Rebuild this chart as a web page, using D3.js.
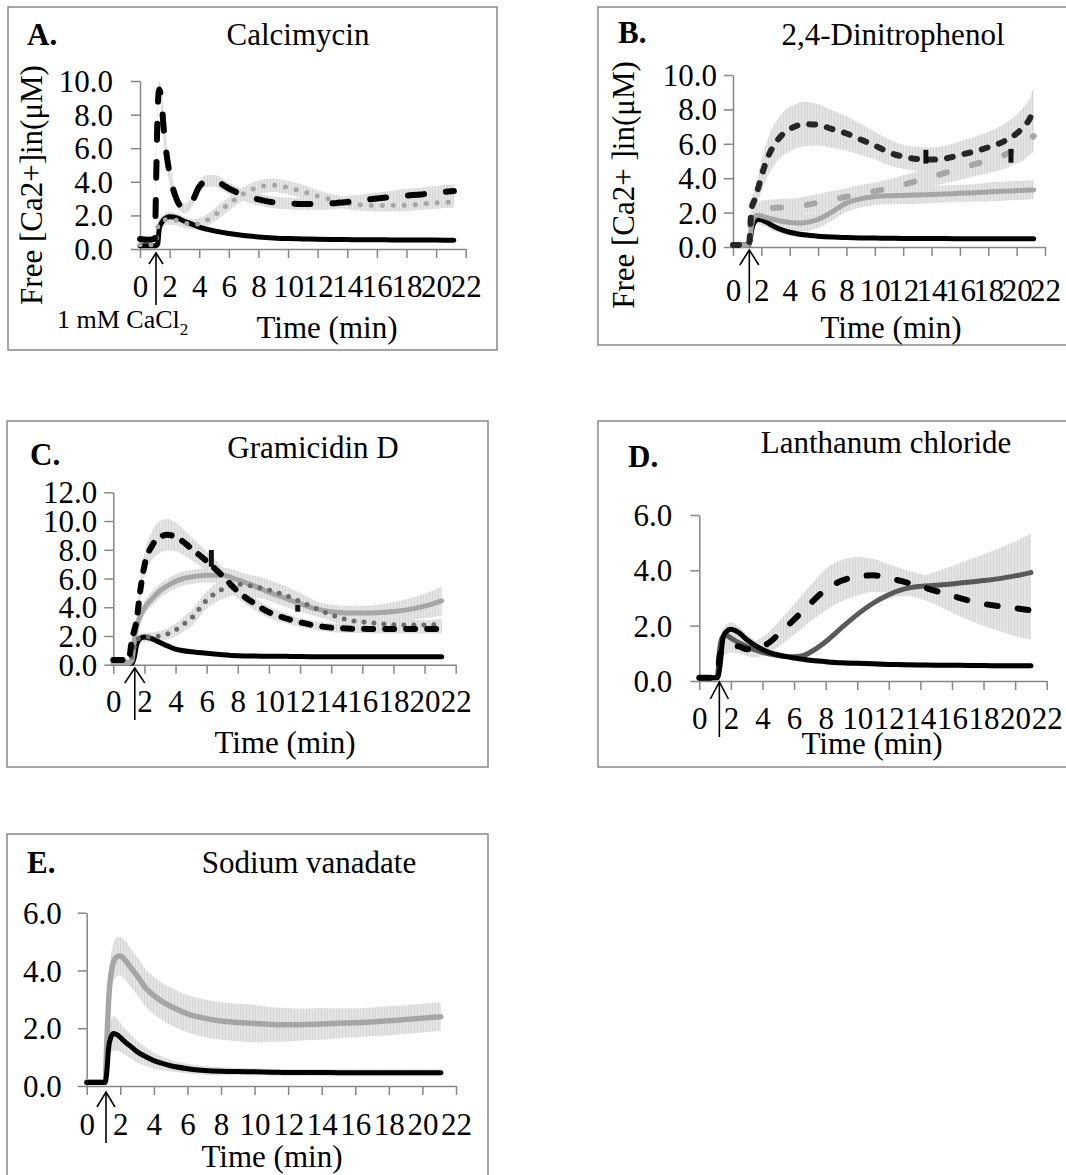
<!DOCTYPE html>
<html>
<head>
<meta charset="utf-8">
<script src="https://cdn.jsdelivr.net/npm/d3@7"></script>
<style>
  body { margin: 0; background: #fff; }
  svg { display: block; font-family: "Liberation Serif", "Times New Roman", serif; }
</style>
</head>
<body>
<svg id="chart" width="1066" height="1175"></svg>
<script>
// ---- data (time in min, free [Ca2+]in in µM, error = SD half-width) ----
const xTicks = d3.range(0, 23, 2);

// A. Calcimycin
const tA = [0, 0.5, 1.0, 1.1, 1.2, 1.3, 1.45, 1.6, 1.8, 2.0, 2.5, 3, 3.5, 4, 4.5, 5, 6, 7, 8, 9, 10, 11, 12, 13, 14, 15, 16, 17, 18, 19, 20, 21.2];
const aControl = [0.2, 0.2, 0.2, 0.2, 0.3, 1.2, 1.55, 1.75, 1.88, 1.92, 1.85, 1.65, 1.48, 1.3, 1.18, 1.08, 0.92, 0.8, 0.72, 0.66, 0.62, 0.6, 0.58, 0.57, 0.56, 0.55, 0.55, 0.54, 0.54, 0.53, 0.53, 0.52];
const aControlErr = [0.05, 0.05, 0.05, 0.05, 0.1, 0.2, 0.25, 0.3, 0.3, 0.3, 0.28, 0.25, 0.22, 0.2, 0.18, 0.16, 0.14, 0.12, 0.1, 0.1, 0.1, 0.1, 0.1, 0.1, 0.1, 0.1, 0.1, 0.1, 0.1, 0.1, 0.1, 0.1];
const aDrug = [0.6, 0.55, 0.6, 4.5, 8.5, 9.5, 8.8, 7.2, 5.6, 4.5, 2.9, 2.4, 2.8, 3.7, 4.05, 4.05, 3.6, 3.2, 2.95, 2.78, 2.72, 2.68, 2.68, 2.72, 2.8, 2.9, 3.0, 3.1, 3.18, 3.25, 3.35, 3.45];
const aDrugErr = [0.1, 0.1, 0.1, 0.4, 0.6, 0.5, 0.8, 0.8, 0.7, 0.6, 0.4, 0.3, 0.3, 0.35, 0.35, 0.35, 0.35, 0.35, 0.35, 0.35, 0.35, 0.35, 0.35, 0.35, 0.35, 0.35, 0.35, 0.35, 0.4, 0.4, 0.4, 0.4];
const aDotted = [0.25, 0.25, 0.25, 0.6, 1.3, 1.5, 1.65, 1.72, 1.75, 1.75, 1.7, 1.55, 1.48, 1.5, 1.7, 2.0, 2.68, 3.3, 3.68, 3.8, 3.65, 3.42, 3.15, 2.92, 2.72, 2.62, 2.58, 2.6, 2.6, 2.68, 2.75, 2.8];
const aDottedErr = [0.05, 0.05, 0.05, 0.2, 0.3, 0.3, 0.3, 0.3, 0.3, 0.3, 0.3, 0.3, 0.3, 0.35, 0.35, 0.4, 0.4, 0.4, 0.4, 0.4, 0.4, 0.4, 0.35, 0.35, 0.35, 0.35, 0.35, 0.35, 0.35, 0.35, 0.35, 0.35];

// B. 2,4-Dinitrophenol
const tB = [0, 0.5, 1.0, 1.15, 1.3, 1.5, 1.8, 2.0, 2.5, 3, 3.5, 4, 4.5, 5, 6, 7, 8, 9, 10, 11, 12, 13, 14, 15, 16, 17, 18, 19, 20, 20.5, 21, 21.2];
const bControl = [0.12, 0.12, 0.12, 0.15, 0.9, 1.45, 1.62, 1.58, 1.38, 1.15, 0.98, 0.86, 0.77, 0.71, 0.63, 0.58, 0.55, 0.53, 0.52, 0.51, 0.5, 0.5, 0.49, 0.49, 0.48, 0.48, 0.48, 0.48, 0.48, 0.48, 0.48, 0.48];
const bControlErr = [0.05, 0.05, 0.05, 0.05, 0.2, 0.3, 0.3, 0.3, 0.28, 0.25, 0.22, 0.2, 0.18, 0.16, 0.14, 0.12, 0.1, 0.1, 0.1, 0.1, 0.1, 0.1, 0.1, 0.1, 0.1, 0.1, 0.1, 0.1, 0.1, 0.1, 0.1, 0.1];
const bDrug = [0.12, 0.12, 0.12, 0.3, 2.2, 2.7, 3.5, 4.1, 5.3, 6.05, 6.55, 6.85, 7.05, 7.15, 7.1, 6.85, 6.6, 6.25, 5.9, 5.5, 5.25, 5.12, 5.08, 5.15, 5.35, 5.55, 5.8, 6.1, 6.6, 7.0, 7.6, 8.1];
const bDrugErr = [0.05, 0.05, 0.05, 0.2, 0.5, 0.6, 0.8, 0.9, 1.1, 1.2, 1.25, 1.3, 1.3, 1.3, 1.2, 1.1, 1.0, 0.9, 0.8, 0.75, 0.7, 0.7, 0.7, 0.75, 0.8, 0.85, 0.9, 1.0, 1.1, 1.15, 1.2, 1.2];
const bGreyDash = [0.1, 0.1, 0.1, 0.3, 1.6, 2.0, 2.15, 2.2, 2.25, 2.28, 2.3, 2.3, 2.35, 2.42, 2.58, 2.75, 2.92, 3.1, 3.25, 3.42, 3.62, 3.85, 4.08, 4.32, 4.55, 4.8, 5.05, 5.3, 5.72, 5.95, 6.3, 6.45];
const bGreyDashErr = [0.05, 0.05, 0.05, 0.1, 0.3, 0.4, 0.45, 0.5, 0.5, 0.5, 0.5, 0.5, 0.5, 0.5, 0.5, 0.5, 0.5, 0.5, 0.5, 0.5, 0.55, 0.55, 0.6, 0.6, 0.65, 0.7, 0.75, 0.8, 0.85, 0.9, 0.9, 0.9];
const bGreySolid = [0.1, 0.1, 0.1, 0.2, 1.2, 1.75, 1.85, 1.8, 1.68, 1.58, 1.48, 1.42, 1.4, 1.41, 1.6, 2.05, 2.55, 2.8, 2.93, 2.98, 3.0, 3.02, 3.05, 3.08, 3.12, 3.15, 3.2, 3.24, 3.28, 3.3, 3.31, 3.32];
const bGreySolidErr = [0.05, 0.05, 0.05, 0.1, 0.3, 0.45, 0.5, 0.5, 0.5, 0.5, 0.5, 0.5, 0.5, 0.5, 0.5, 0.5, 0.5, 0.5, 0.5, 0.5, 0.5, 0.5, 0.5, 0.5, 0.5, 0.5, 0.55, 0.55, 0.55, 0.55, 0.55, 0.55];
const bMarks = [{t: 13.6, lo: 4.85, hi: 5.65}, {t: 19.6, lo: 4.9, hi: 5.7}];

// C. Gramicidin D
const tC = [0, 0.5, 1.0, 1.2, 1.35, 1.5, 1.7, 2.0, 2.5, 3, 3.5, 4, 4.5, 5, 6, 7, 8, 9, 10, 11, 12, 13, 14, 15, 16, 17, 18, 19, 20, 21.1];
const cControl = [0.1, 0.1, 0.1, 0.1, 0.5, 1.4, 1.8, 1.93, 1.8, 1.55, 1.3, 1.08, 0.97, 0.9, 0.79, 0.7, 0.63, 0.6, 0.59, 0.58, 0.57, 0.56, 0.56, 0.56, 0.55, 0.55, 0.55, 0.55, 0.55, 0.55];
const cControlErr = [0.05, 0.05, 0.05, 0.05, 0.15, 0.25, 0.3, 0.3, 0.28, 0.25, 0.22, 0.2, 0.18, 0.15, 0.12, 0.1, 0.1, 0.1, 0.1, 0.1, 0.1, 0.1, 0.1, 0.1, 0.1, 0.1, 0.1, 0.1, 0.1, 0.1];
const cDrug = [0.33, 0.33, 0.4, 1.8, 2.4, 3.1, 4.9, 6.9, 8.3, 8.9, 9.05, 8.9, 8.55, 8.1, 7.2, 6.2, 5.1, 4.3, 3.65, 3.25, 2.95, 2.72, 2.58, 2.52, 2.5, 2.48, 2.48, 2.48, 2.48, 2.48];
const cDrugErr = [0.05, 0.05, 0.05, 0.2, 0.3, 0.4, 0.6, 0.8, 1.0, 1.1, 1.1, 1.0, 0.9, 0.8, 0.7, 0.6, 0.5, 0.45, 0.4, 0.35, 0.3, 0.3, 0.3, 0.3, 0.3, 0.3, 0.3, 0.3, 0.3, 0.3];
const cGreySolid = [0.1, 0.1, 0.1, 0.3, 1.6, 2.6, 3.3, 3.95, 4.6, 5.15, 5.5, 5.8, 6.0, 6.1, 6.22, 6.22, 5.9, 5.5, 5.05, 4.65, 4.25, 3.88, 3.68, 3.6, 3.6, 3.62, 3.7, 3.85, 4.08, 4.45];
const cGreySolidErr = [0.05, 0.05, 0.05, 0.1, 0.3, 0.4, 0.4, 0.45, 0.5, 0.5, 0.5, 0.5, 0.5, 0.5, 0.5, 0.55, 0.6, 0.6, 0.6, 0.6, 0.55, 0.5, 0.5, 0.5, 0.5, 0.55, 0.65, 0.75, 0.85, 1.0];
const cDotted = [0.33, 0.33, 0.3, 0.6, 1.3, 1.7, 1.85, 1.9, 1.95, 2.0, 2.15, 2.42, 2.8, 3.22, 4.5, 5.25, 5.6, 5.46, 5.2, 4.85, 4.4, 3.92, 3.48, 3.13, 2.99, 2.88, 2.79, 2.76, 2.76, 2.83];
const cDottedErr = [0.05, 0.05, 0.05, 0.1, 0.2, 0.3, 0.3, 0.3, 0.3, 0.35, 0.4, 0.45, 0.5, 0.55, 0.6, 0.7, 0.75, 0.75, 0.7, 0.65, 0.6, 0.5, 0.45, 0.4, 0.35, 0.35, 0.35, 0.35, 0.35, 0.35];
const cMarks = [{t: 6.3, lo: 6.82, hi: 7.98}, {t: 11.85, lo: 3.69, hi: 4.15}];

// D. Lanthanum chloride
const tD = [0, 0.5, 1.0, 1.15, 1.3, 1.5, 1.7, 2.0, 2.5, 3, 3.5, 4, 4.5, 5, 5.5, 6, 6.5, 7, 8, 9, 10, 11, 12, 13, 14, 15, 16, 17, 18, 19, 20, 21];
const dControl = [0.12, 0.12, 0.12, 0.12, 0.5, 1.55, 1.78, 1.87, 1.75, 1.5, 1.3, 1.14, 1.02, 0.94, 0.88, 0.83, 0.79, 0.75, 0.7, 0.66, 0.64, 0.62, 0.6, 0.59, 0.58, 0.57, 0.57, 0.56, 0.56, 0.55, 0.55, 0.55];
const dControlErr = [0.05, 0.05, 0.05, 0.05, 0.15, 0.25, 0.25, 0.25, 0.22, 0.2, 0.18, 0.15, 0.13, 0.12, 0.1, 0.1, 0.1, 0.1, 0.1, 0.1, 0.1, 0.1, 0.1, 0.1, 0.1, 0.1, 0.1, 0.1, 0.1, 0.1, 0.1, 0.1];
const dGreySolid = [0.12, 0.12, 0.12, 0.2, 1.2, 1.62, 1.65, 1.55, 1.38, 1.25, 1.13, 1.04, 0.97, 0.92, 0.89, 0.88, 0.9, 1.03, 1.42, 1.92, 2.4, 2.81, 3.12, 3.33, 3.42, 3.46, 3.51, 3.57, 3.63, 3.7, 3.8, 3.92];
const dGreySolidErr = [0.05, 0.05, 0.05, 0.1, 0.2, 0.25, 0.25, 0.25, 0.25, 0.2, 0.15, 0.12, 0.1, 0.1, 0.1, 0.1, 0.1, 0.1, 0.1, 0.1, 0.1, 0.1, 0.15, 0.25, 0.35, 0.5, 0.65, 0.8, 0.95, 1.1, 1.25, 1.4];
const dDrug = [0.12, 0.12, 0.12, 0.2, 0.95, 1.15, 1.22, 1.28, 1.25, 1.15, 1.15, 1.25, 1.42, 1.68, 1.95, 2.22, 2.5, 2.78, 3.3, 3.62, 3.78, 3.82, 3.72, 3.58, 3.42, 3.25, 3.08, 2.92, 2.79, 2.7, 2.63, 2.55];
const dDrugErr = [0.05, 0.05, 0.05, 0.1, 0.2, 0.25, 0.25, 0.25, 0.25, 0.25, 0.3, 0.35, 0.4, 0.45, 0.5, 0.55, 0.6, 0.65, 0.75, 0.75, 0.7, 0.6, 0.5, 0.45, 0.45, 0.5, 0.6, 0.7, 0.8, 0.9, 1.0, 1.05];

// E. Sodium vanadate
const tE = [0, 0.5, 1.0, 1.1, 1.2, 1.3, 1.45, 1.6, 1.8, 2.0, 2.3, 2.6, 3, 3.5, 4, 4.5, 5, 6, 7, 8, 9, 10, 11, 12, 13, 14, 15, 16, 17, 18, 19, 20, 21.1];
const eControl = [0.12, 0.12, 0.12, 0.12, 0.5, 1.3, 1.7, 1.82, 1.78, 1.68, 1.52, 1.38, 1.19, 1.02, 0.88, 0.78, 0.7, 0.6, 0.54, 0.51, 0.5, 0.49, 0.48, 0.47, 0.47, 0.47, 0.46, 0.46, 0.46, 0.46, 0.46, 0.46, 0.46];
const eControlErr = [0.05, 0.05, 0.05, 0.05, 0.2, 0.4, 0.55, 0.6, 0.55, 0.5, 0.45, 0.42, 0.38, 0.33, 0.28, 0.24, 0.2, 0.17, 0.15, 0.14, 0.13, 0.12, 0.12, 0.12, 0.12, 0.12, 0.12, 0.12, 0.12, 0.12, 0.12, 0.12, 0.12];
const eDrug = [0.15, 0.15, 0.15, 0.2, 1.5, 2.9, 3.9, 4.3, 4.47, 4.5, 4.35, 4.12, 3.82, 3.4, 3.13, 2.92, 2.76, 2.5, 2.35, 2.25, 2.2, 2.16, 2.13, 2.12, 2.13, 2.15, 2.17, 2.19, 2.22, 2.26, 2.3, 2.35, 2.4];
const eDrugErr = [0.05, 0.05, 0.05, 0.1, 0.3, 0.5, 0.6, 0.65, 0.67, 0.67, 0.67, 0.67, 0.66, 0.65, 0.65, 0.65, 0.65, 0.65, 0.65, 0.65, 0.65, 0.65, 0.6, 0.58, 0.55, 0.55, 0.52, 0.5, 0.5, 0.5, 0.5, 0.5, 0.5];

// ---- styles ----
const GREY = "#a6a6a6";
const sty = {
  control: {stroke: "#000", width: 5},
  aDash: {stroke: "#000", width: 6, dash: "16 22"},
  aDot: {stroke: GREY, width: 5, dash: "0 11"},
  bDash: {stroke: "#262626", width: 6, dash: "6 12"},
  bGreyDash: {stroke: GREY, width: 6, dash: "8 26"},
  greySolid: {stroke: GREY, width: 5},
  cDash: {stroke: "#000", width: 6, dash: "9 12"},
  cDot: {stroke: "#6b6b6b", width: 5, dash: "0 10"},
  dDash: {stroke: "#000", width: 6, dash: "11 20"},
  dGrey: {stroke: "#595959", width: 5},
  eGrey: {stroke: GREY, width: 5.5}
};

const panels = [
  {
    letter: "A.", title: "Calcimycin", box: [8, 7, 489, 343],
    xr: [140, 465.7], yr: [249, 81], yMax: 10, yLabPad: 27, xLabOff: 48,
    letterPos: [27, 45], titlePos: [298, 45], timePos: [327, 338],
    yTitle: "Free [Ca2+]in(μM)", yTitlePos: [42, 185],
    arrow: {t: 1.08, tip: 253, bottom: 305, w: 7, h: 11}, cacl: [57, 328],
    series: [
      {t: tA, v: aControl, e: aControlErr, s: sty.control},
      {t: tA, v: aDotted, e: aDottedErr, s: sty.aDot},
      {t: tA, v: aDrug, e: aDrugErr, s: sty.aDash}
    ], marks: []
  },
  {
    letter: "B.", title: "2,4-Dinitrophenol", box: [598, 7, 520, 338],
    xr: [733, 1045], yr: [247, 75], yMax: 10, yLabPad: 16, xLabOff: 54,
    letterPos: [618, 43], titlePos: [893, 45], timePos: [891, 338],
    yTitle: "Free [Ca2+ ]in(μM)", yTitlePos: [634, 185],
    arrow: {t: 1.15, tip: 250, bottom: 303, w: 9.5, h: 15},
    series: [
      {t: tB, v: bControl, e: bControlErr, s: sty.control},
      {t: tB, v: bGreySolid, e: bGreySolidErr, s: sty.greySolid},
      {t: tB, v: bGreyDash, e: bGreyDashErr, s: sty.bGreyDash},
      {t: tB, v: bDrug, e: bDrugErr, s: sty.bDash}
    ], marks: bMarks
  },
  {
    letter: "C.", title: "Gramicidin D", box: [7, 421, 481, 346],
    xr: [113.3, 455.7], yr: [664.7, 492.3], yMax: 12, yLabPad: 16, xLabOff: 47,
    letterPos: [30, 465], titlePos: [313, 458], timePos: [285, 753],
    arrow: {t: 1.38, tip: 668, bottom: 720, w: 10, h: 15},
    series: [
      {t: tC, v: cControl, e: cControlErr, s: sty.control},
      {t: tC, v: cGreySolid, e: cGreySolidErr, s: sty.greySolid},
      {t: tC, v: cDotted, e: cDottedErr, s: sty.cDot},
      {t: tC, v: cDrug, e: cDrugErr, s: sty.cDash}
    ], marks: cMarks
  },
  {
    letter: "D.", title: "Lanthanum chloride", box: [598, 421, 520, 346],
    xr: [699.3, 1046.7], yr: [681, 515], yMax: 6, yLabPad: 27, xLabOff: 48,
    letterPos: [628, 467], titlePos: [886, 453], timePos: [872, 754],
    arrow: {t: 1.27, tip: 682, bottom: 737, w: 9, h: 17},
    series: [
      {t: tD, v: dGreySolid, e: dGreySolidErr, s: sty.dGrey},
      {t: tD, v: dControl, e: dControlErr, s: sty.control},
      {t: tD, v: dDrug, e: dDrugErr, s: sty.dDash}
    ], marks: []
  },
  {
    letter: "E.", title: "Sodium vanadate", box: [7, 834, 481, 400],
    xr: [86.7, 456], yr: [1086, 912.7], yMax: 6, yLabPad: 25, xLabOff: 49,
    letterPos: [27, 873], titlePos: [309, 873], timePos: [272, 1167],
    arrow: {t: 1.15, tip: 1092, bottom: 1143, w: 9, h: 15},
    series: [
      {t: tE, v: eDrug, e: eDrugErr, s: sty.eGrey},
      {t: tE, v: eControl, e: eControlErr, s: sty.control}
    ], marks: []
  }
];

const svg = d3.select("#chart");
const FONT = 31;

// ribbed light grey fill imitating dense error bars
const pat = svg.append("defs").append("pattern")
  .attr("id", "errfill").attr("patternUnits", "userSpaceOnUse")
  .attr("width", 3).attr("height", 10);
pat.append("rect").attr("width", 3).attr("height", 10).attr("fill", "#e4e4e4");
pat.append("rect").attr("width", 1).attr("height", 10).attr("fill", "#d6d6d6");

panels.forEach(drawPanel);

function drawPanel(p) {
  const g = svg.append("g");
  const [bx, by, bw, bh] = p.box;
  g.append("rect").attr("x", bx).attr("y", by).attr("width", bw).attr("height", bh)
    .attr("fill", "none").attr("stroke", "#898989").attr("stroke-width", 1.5);

  const x = d3.scaleLinear().domain([0, 22]).range(p.xr);
  const y = d3.scaleLinear().domain([0, p.yMax]).range(p.yr);

  const yAxis = g.append("g").attr("transform", `translate(${p.xr[0]},0)`)
    .call(d3.axisLeft(y).tickValues(d3.range(0, p.yMax + 0.01, 2)).tickFormat(d3.format(".1f")).tickSize(9).tickSizeOuter(0));
  const xAxis = g.append("g").attr("transform", `translate(0,${p.yr[0]})`)
    .call(d3.axisBottom(x).tickValues(xTicks).tickFormat(d3.format("d")).tickSize(9).tickSizeOuter(0));
  [yAxis, xAxis].forEach((a) => {
    a.select(".domain").attr("stroke", "#868686").attr("stroke-width", 1.5);
    a.selectAll(".tick line").attr("stroke", "#868686").attr("stroke-width", 1.5);
    a.selectAll("text").attr("fill", "#000").style("font-size", FONT + "px")
      .style("font-family", '"Liberation Serif", "Times New Roman", serif');
  });
  yAxis.selectAll("text").attr("x", -p.yLabPad).attr("dy", "0.34em");
  xAxis.selectAll("text").attr("y", p.xLabOff).attr("dy", 0);

  // error bands
  const band = d3.area()
    .x((d) => x(d.t))
    .y0((d) => y(Math.max(0, d.v - d.e)))
    .y1((d) => y(d.v + d.e))
    .curve(d3.curveMonotoneX);
  const line = d3.line().x((d) => x(d.t)).y((d) => y(d.v)).curve(d3.curveMonotoneX);
  const rows = p.series.map((s) => s.t.map((t, i) => ({t, v: s.v[i], e: s.e[i]})));

  rows.forEach((r) => g.append("path").datum(r).attr("d", band).attr("fill", "url(#errfill)"));

  rows.forEach((r, i) => {
    const s = p.series[i].s;
    g.append("path").datum(r).attr("d", line)
      .attr("fill", "none").attr("stroke", s.stroke).attr("stroke-width", s.width)
      .attr("stroke-linecap", "round").attr("stroke-linejoin", "round")
      .attr("stroke-dasharray", s.dash || null);
  });

  // stray dark error bars
  g.selectAll("line.mark").data(p.marks).join("line").attr("class", "mark")
    .attr("x1", (d) => x(d.t)).attr("x2", (d) => x(d.t))
    .attr("y1", (d) => y(d.lo)).attr("y2", (d) => y(d.hi))
    .attr("stroke", "#111").attr("stroke-width", 5);

  // CaCl2 addition arrow
  const ax = x(p.arrow.t);
  const a = p.arrow;
  g.append("line").attr("x1", ax).attr("x2", ax).attr("y1", a.tip).attr("y2", a.bottom)
    .attr("stroke", "#000").attr("stroke-width", 1.6);
  g.append("path")
    .attr("d", `M${ax - a.w},${a.tip + a.h}L${ax},${a.tip}L${ax + a.w},${a.tip + a.h}`)
    .attr("fill", "none").attr("stroke", "#000").attr("stroke-width", 1.6);

  // texts
  g.append("text").attr("x", p.letterPos[0]).attr("y", p.letterPos[1])
    .attr("font-weight", "bold").attr("font-size", FONT).text(p.letter);
  g.append("text").attr("x", p.titlePos[0]).attr("y", p.titlePos[1])
    .attr("text-anchor", "middle").attr("font-size", FONT).text(p.title);
  g.append("text").attr("x", p.timePos[0]).attr("y", p.timePos[1])
    .attr("text-anchor", "middle").attr("font-size", FONT).text("Time (min)");
  if (p.yTitle) {
    g.append("text")
      .attr("transform", `translate(${p.yTitlePos[0]},${p.yTitlePos[1]}) rotate(-90)`)
      .attr("text-anchor", "middle").attr("font-size", FONT).text(p.yTitle);
  }
  if (p.cacl) {
    const t = g.append("text").attr("x", p.cacl[0]).attr("y", p.cacl[1]).attr("font-size", 26);
    t.append("tspan").text("1 mM CaCl");
    t.append("tspan").attr("font-size", 17).attr("dy", 7).text("2");
  }
}
</script>
</body>
</html>
